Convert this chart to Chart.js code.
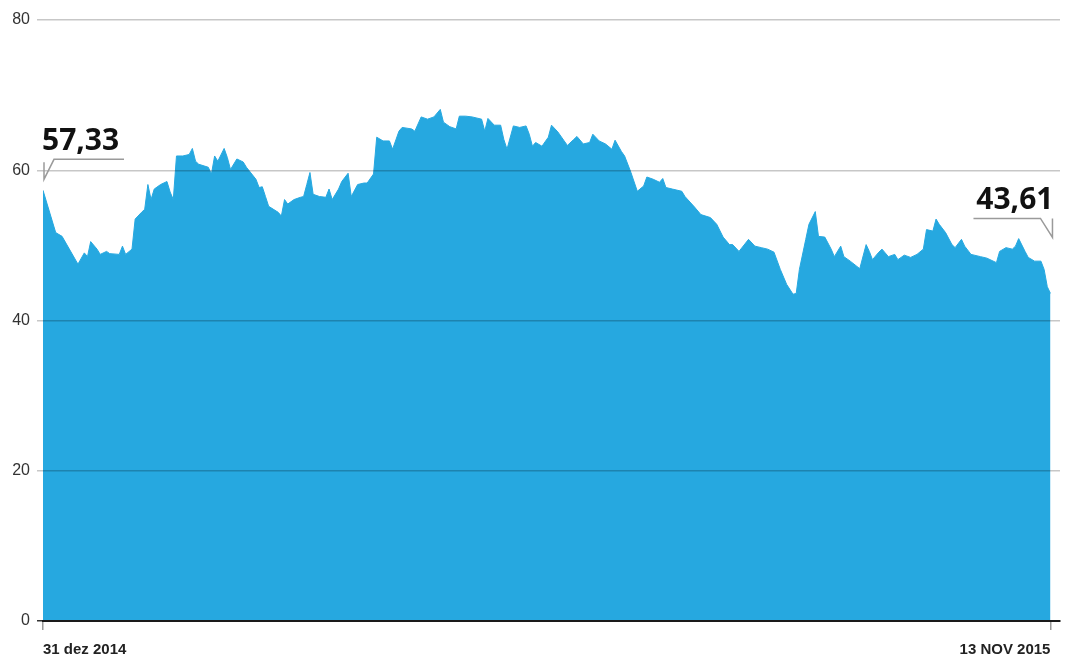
<!DOCTYPE html>
<html>
<head>
<meta charset="utf-8">
<script src="https://cdn.jsdelivr.net/npm/chart.js@4/dist/chart.umd.min.js"></script>
<style>
  html, body { margin: 0; padding: 0; background: #ffffff; }
  #wrap { position: relative; width: 1068px; height: 663px; }
</style>
</head>
<body>
<div id="wrap"><canvas id="c" width="1068" height="663"></canvas></div>
<script>
// Days since 31 Dec 2014 for each observation
const days = [0,4,6,11,13,14,15,17,18,20,21,24,25,26,28,29,31,32,33,34,35,37,39,40,41,42,44,46,47,48,49,52,53,54,55,57,58,59,61,63,64,
  67,68,69,70,71,74,75,76,77,79,81,82,83,84,85,87,89,90,91,93,94,96,97,99,101,102,104,105,107,109,110,112,113,116,117,119,121,123,125,126,128,
  130,131,133,135,138,139,140,142,144,145,146,148,150,152,153,154,155,157,159,160,162,164,165,167,168,170,172,173,175,177,179,180,182,183,185,187,
  189,190,192,194,195,196,198,201,202,205,207,210,212,214,216,217,219,222,224,226,228,230,232,234,236,237,238,240,241,243,244,246,248,249,251,252,
  254,257,259,260,261,263,264,266,268,269,271,273,275,277,278,280,281,282,284,286,287,289,290,292,295,297,300,301,303,305,306,307,309,310,312,314,315,316,317];

// Price values
const prices = [57.33,51.7,51.2,47.5,49.0,48.5,50.5,49.5,48.8,49.2,48.9,48.8,49.9,48.8,49.5,53.5,54.4,54.8,58.1,56.1,57.5,58.1,58.5,57.1,56.1,61.9,61.9,62.1,62.9,61.2,60.8,60.4,59.5,61.9,61.2,62.9,61.7,60.1,61.5,61.1,60.4,
  58.8,57.7,57.8,56.5,55.2,54.4,53.9,56.1,55.5,56.1,56.4,56.5,58.1,59.7,56.8,56.5,56.4,57.5,56.1,57.5,58.5,59.6,56.5,58.1,58.3,58.3,59.5,64.4,63.9,63.9,62.8,65.2,65.7,65.5,65.2,67.1,66.8,67.1,68.1,66.4,65.8,
  65.5,67.2,67.2,67.1,66.8,65.2,66.9,66.0,66.0,64.1,62.8,65.9,65.7,65.9,64.8,63.2,63.7,63.2,64.4,66.0,65.1,63.9,63.3,64.1,64.5,63.5,63.7,64.8,63.9,63.5,62.8,64.0,62.5,61.9,59.7,57.2,
  57.9,59.1,58.8,58.4,58.9,57.7,57.5,57.2,56.5,55.1,54.1,53.7,52.8,51.1,50.1,50.1,49.2,50.8,49.9,49.7,49.5,49.1,46.8,44.8,43.5,43.6,46.8,50.8,52.8,54.5,51.2,51.1,49.5,48.5,49.9,48.5,
  47.9,46.9,50.1,49.2,48.1,49.1,49.5,48.5,48.8,48.1,48.7,48.4,48.8,49.5,52.1,51.9,53.5,52.8,51.7,50.1,49.7,50.8,49.9,48.8,48.5,48.3,47.7,49.2,49.7,49.5,49.9,50.9,49.2,48.4,47.9,47.9,46.8,44.5,43.61];

// Axis ticks
const tickDays = [0, 317];
const tickLabels = ['31 dez 2014', '13 NOV 2015'];
const yTicks = [0, 20, 40, 60, 80];

// Annotations (first and last value)
const firstLabel = '57,33';
const lastLabel = '43,61';

const FILL = 'rgb(38,168,224)';
const NARROW = "'Liberation Sans Narrow', 'Arial Narrow', 'Liberation Sans', sans-serif";

const points = days.map((d, i) => ({ x: d, y: prices[i] }));

const calloutPlugin = {
  id: 'callouts',
  afterDraw(chart) {
    const meta = chart.getDatasetMeta(0);
    const p0 = meta.data[0];
    const pN = meta.data[meta.data.length - 1];
    const ctx = chart.ctx;
    ctx.save();
    ctx.fillStyle = '#111';
    ctx.font = "bold 30px 'Open Sans', 'Liberation Sans', sans-serif";
    ctx.textBaseline = 'alphabetic';
    ctx.textAlign = 'left';
    ctx.fillText(firstLabel, p0.x - 1, p0.y - 40);
    ctx.strokeStyle = '#9a9a9a';
    ctx.lineWidth = 1.5;
    ctx.beginPath();
    ctx.moveTo(p0.x + 1, p0.y - 28);
    ctx.lineTo(p0.x + 1, p0.y - 11);
    ctx.lineTo(p0.x + 11, p0.y - 31);
    ctx.lineTo(p0.x + 81, p0.y - 31);
    ctx.stroke();
    ctx.textAlign = 'right';
    ctx.fillText(lastLabel, pN.x + 3, pN.y - 84);
    ctx.beginPath();
    ctx.moveTo(pN.x - 77, pN.y - 75);
    ctx.lineTo(pN.x - 10, pN.y - 75);
    ctx.lineTo(pN.x + 2, pN.y - 56);
    ctx.lineTo(pN.x + 2, pN.y - 75);
    ctx.stroke();
    ctx.restore();
  }
};

new Chart(document.getElementById('c'), {
  type: 'line',
  data: {
    datasets: [{
      data: points,
      fill: 'origin',
      backgroundColor: FILL,
      borderColor: FILL,
      borderWidth: 1,
      pointRadius: 0,
      tension: 0
    }]
  },
  options: {
    responsive: false,
    animation: false,
    devicePixelRatio: 1,
    layout: { padding: { top: 20, right: 8, left: 0, bottom: 0 } },
    plugins: { legend: { display: false }, tooltip: { enabled: false } },
    scales: {
      x: {
        type: 'linear',
        min: 0,
        max: 320,
        z: 1,
        afterBuildTicks(scale) { scale.ticks = tickDays.map(v => ({ value: v })); },
        afterFit(scale) { scale.height = 42; },
        border: { display: true, color: '#1a1a1a', width: 2, z: 2 },
        grid: { z: 1, drawOnChartArea: false, drawTicks: true, tickLength: 9, color: '#9a9a9a', lineWidth: 1.5 },
        ticks: {
          autoSkip: false,
          maxRotation: 0,
          align: 'inner',
          padding: 11,
          color: '#222',
          font: { family: NARROW, size: 15, weight: 'bold' },
          callback(value) {
            const i = tickDays.indexOf(value);
            return i >= 0 ? tickLabels[i] : '';
          }
        }
      },
      y: {
        min: 0,
        max: 80,
        z: 1,
        afterBuildTicks(scale) { scale.ticks = yTicks.map(v => ({ value: v })); },
        afterFit(scale) { scale.width = 43; },
        border: { display: false },
        grid: {
          z: 1,
          drawTicks: true,
          tickLength: 6,
          lineWidth: 1.5,
          color: ctx => ctx.tick && ctx.tick.value === 0 ? '#333' : 'rgba(0,0,0,0.22)'
        },
        ticks: {
          padding: 7,
          color: '#333',
          font: { family: NARROW, size: 16 },
          callback(value) { return String(value); }
        }
      }
    }
  },
  plugins: [calloutPlugin]
});
</script>
</body>
</html>
